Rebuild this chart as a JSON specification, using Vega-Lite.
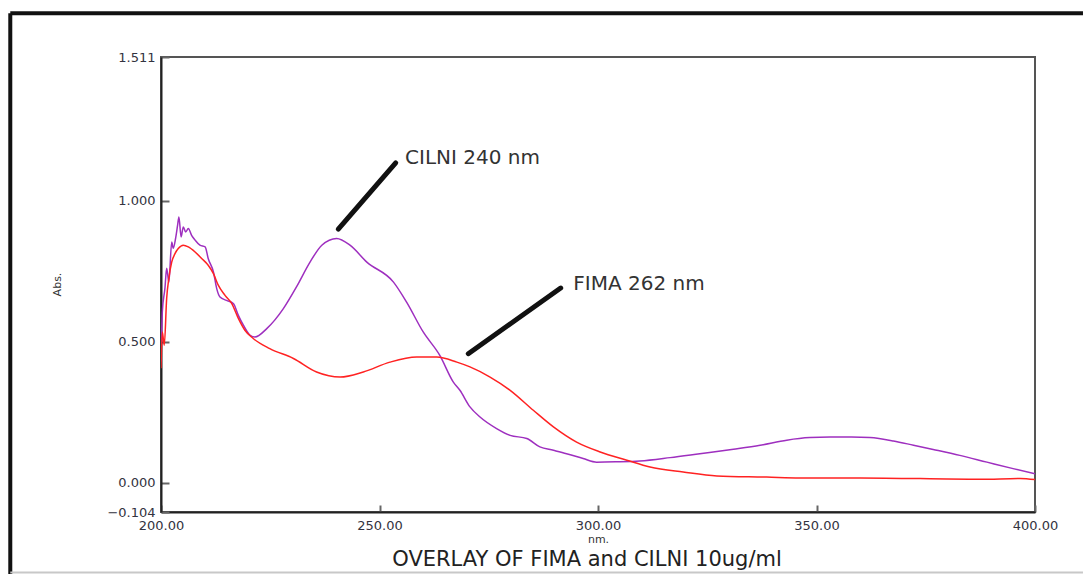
{
  "$schema": "https://vega.github.io/schema/vega-lite/v6.json",
  "width": 874,
  "height": 455,
  "autosize": "none",
  "padding": {"left": 161, "top": 57, "right": 48, "bottom": 62},
  "background": "white",
  "config": {
    "view": {"stroke": "#555555", "strokeWidth": 2},
    "axis": {"grid": false, "labelFont": "DejaVu Sans", "labelFontSize": 13, "labelColor": "#333340", "titleFont": "DejaVu Sans", "titleFontWeight": "normal", "titleColor": "#333333", "domainColor": "#222222", "domainWidth": 2, "tickColor": "#666666", "tickWidth": 2, "labelFlush": false, "labelOverlap": false, "labelBound": false}
  },
  "title": {"text": "OVERLAY OF FIMA and CILNI 10ug/ml", "orient": "bottom", "anchor": "middle", "font": "DejaVu Sans", "fontSize": 21, "fontWeight": "normal", "color": "#222222", "offset": -28, "dx": -11},
  "datasets": {
    "spectra": [
      {"series": "CILNI", "nm": 200.0, "abs": 0.43},
      {"series": "CILNI", "nm": 200.3, "abs": 0.606},
      {"series": "CILNI", "nm": 200.9, "abs": 0.69},
      {"series": "CILNI", "nm": 201.3, "abs": 0.761},
      {"series": "CILNI", "nm": 201.8, "abs": 0.712},
      {"series": "CILNI", "nm": 202.45, "abs": 0.854},
      {"series": "CILNI", "nm": 202.8, "abs": 0.832},
      {"series": "CILNI", "nm": 203.35, "abs": 0.868},
      {"series": "CILNI", "nm": 203.8, "abs": 0.914},
      {"series": "CILNI", "nm": 204.1, "abs": 0.943},
      {"series": "CILNI", "nm": 204.6, "abs": 0.872},
      {"series": "CILNI", "nm": 205.1, "abs": 0.908},
      {"series": "CILNI", "nm": 205.65, "abs": 0.89},
      {"series": "CILNI", "nm": 206.25, "abs": 0.902},
      {"series": "CILNI", "nm": 207.0, "abs": 0.878},
      {"series": "CILNI", "nm": 207.8, "abs": 0.861},
      {"series": "CILNI", "nm": 208.9, "abs": 0.843},
      {"series": "CILNI", "nm": 210.1, "abs": 0.837},
      {"series": "CILNI", "nm": 210.8, "abs": 0.796},
      {"series": "CILNI", "nm": 212.0, "abs": 0.748},
      {"series": "CILNI", "nm": 212.75, "abs": 0.689},
      {"series": "CILNI", "nm": 213.5, "abs": 0.659},
      {"series": "CILNI", "nm": 215.0, "abs": 0.647},
      {"series": "CILNI", "nm": 216.55, "abs": 0.636},
      {"series": "CILNI", "nm": 217.7, "abs": 0.594},
      {"series": "CILNI", "nm": 218.85, "abs": 0.559},
      {"series": "CILNI", "nm": 220.4, "abs": 0.523},
      {"series": "CILNI", "nm": 221.5, "abs": 0.517},
      {"series": "CILNI", "nm": 224.2, "abs": 0.547},
      {"series": "CILNI", "nm": 228.0, "abs": 0.618},
      {"series": "CILNI", "nm": 231.0, "abs": 0.695},
      {"series": "CILNI", "nm": 234.1, "abs": 0.783},
      {"series": "CILNI", "nm": 236.8, "abs": 0.843},
      {"series": "CILNI", "nm": 240.2, "abs": 0.867},
      {"series": "CILNI", "nm": 243.25, "abs": 0.843},
      {"series": "CILNI", "nm": 247.1, "abs": 0.783},
      {"series": "CILNI", "nm": 253.2, "abs": 0.712},
      {"series": "CILNI", "nm": 256.2, "abs": 0.641},
      {"series": "CILNI", "nm": 260.0, "abs": 0.535},
      {"series": "CILNI", "nm": 263.8, "abs": 0.452},
      {"series": "CILNI", "nm": 266.9, "abs": 0.357},
      {"series": "CILNI", "nm": 268.4, "abs": 0.328},
      {"series": "CILNI", "nm": 270.7, "abs": 0.269},
      {"series": "CILNI", "nm": 273.0, "abs": 0.233},
      {"series": "CILNI", "nm": 276.8, "abs": 0.192},
      {"series": "CILNI", "nm": 279.9, "abs": 0.168},
      {"series": "CILNI", "nm": 283.7, "abs": 0.157},
      {"series": "CILNI", "nm": 286.7, "abs": 0.127},
      {"series": "CILNI", "nm": 289.8, "abs": 0.115},
      {"series": "CILNI", "nm": 292.8, "abs": 0.103},
      {"series": "CILNI", "nm": 296.6, "abs": 0.086},
      {"series": "CILNI", "nm": 299.7, "abs": 0.073},
      {"series": "CILNI", "nm": 304.0, "abs": 0.074},
      {"series": "CILNI", "nm": 309.6, "abs": 0.077},
      {"series": "CILNI", "nm": 316.5, "abs": 0.089},
      {"series": "CILNI", "nm": 323.3, "abs": 0.103},
      {"series": "CILNI", "nm": 331.0, "abs": 0.119},
      {"series": "CILNI", "nm": 337.1, "abs": 0.133},
      {"series": "CILNI", "nm": 343.2, "abs": 0.151},
      {"series": "CILNI", "nm": 348.5, "abs": 0.16},
      {"series": "CILNI", "nm": 353.1, "abs": 0.162},
      {"series": "CILNI", "nm": 358.0, "abs": 0.162},
      {"series": "CILNI", "nm": 362.2, "abs": 0.16},
      {"series": "CILNI", "nm": 367.6, "abs": 0.148},
      {"series": "CILNI", "nm": 372.2, "abs": 0.133},
      {"series": "CILNI", "nm": 376.7, "abs": 0.118},
      {"series": "CILNI", "nm": 382.8, "abs": 0.097},
      {"series": "CILNI", "nm": 389.0, "abs": 0.073},
      {"series": "CILNI", "nm": 395.0, "abs": 0.05},
      {"series": "CILNI", "nm": 400.0, "abs": 0.032},
      {"series": "FIMA", "nm": 200.0, "abs": 0.406},
      {"series": "FIMA", "nm": 200.3, "abs": 0.535},
      {"series": "FIMA", "nm": 200.75, "abs": 0.488},
      {"series": "FIMA", "nm": 201.3, "abs": 0.655},
      {"series": "FIMA", "nm": 201.8, "abs": 0.726},
      {"series": "FIMA", "nm": 202.45, "abs": 0.783},
      {"series": "FIMA", "nm": 203.2, "abs": 0.813},
      {"series": "FIMA", "nm": 203.95, "abs": 0.831},
      {"series": "FIMA", "nm": 205.1, "abs": 0.843},
      {"series": "FIMA", "nm": 206.25, "abs": 0.837},
      {"series": "FIMA", "nm": 207.8, "abs": 0.819},
      {"series": "FIMA", "nm": 209.3, "abs": 0.796},
      {"series": "FIMA", "nm": 210.8, "abs": 0.772},
      {"series": "FIMA", "nm": 212.0, "abs": 0.742},
      {"series": "FIMA", "nm": 213.1, "abs": 0.701},
      {"series": "FIMA", "nm": 214.65, "abs": 0.665},
      {"series": "FIMA", "nm": 216.2, "abs": 0.636},
      {"series": "FIMA", "nm": 217.7, "abs": 0.583},
      {"series": "FIMA", "nm": 219.2, "abs": 0.541},
      {"series": "FIMA", "nm": 221.1, "abs": 0.512},
      {"series": "FIMA", "nm": 224.9, "abs": 0.476},
      {"series": "FIMA", "nm": 230.3, "abs": 0.441},
      {"series": "FIMA", "nm": 235.6, "abs": 0.393},
      {"series": "FIMA", "nm": 241.0, "abs": 0.375},
      {"series": "FIMA", "nm": 246.3, "abs": 0.393},
      {"series": "FIMA", "nm": 252.4, "abs": 0.428},
      {"series": "FIMA", "nm": 258.5, "abs": 0.446},
      {"series": "FIMA", "nm": 263.1, "abs": 0.446},
      {"series": "FIMA", "nm": 267.7, "abs": 0.428},
      {"series": "FIMA", "nm": 270.7, "abs": 0.411},
      {"series": "FIMA", "nm": 275.3, "abs": 0.375},
      {"series": "FIMA", "nm": 279.9, "abs": 0.328},
      {"series": "FIMA", "nm": 285.2, "abs": 0.257},
      {"series": "FIMA", "nm": 289.8, "abs": 0.198},
      {"series": "FIMA", "nm": 295.1, "abs": 0.144},
      {"series": "FIMA", "nm": 300.5, "abs": 0.109},
      {"series": "FIMA", "nm": 306.6, "abs": 0.08},
      {"series": "FIMA", "nm": 311.9, "abs": 0.056},
      {"series": "FIMA", "nm": 319.5, "abs": 0.038},
      {"series": "FIMA", "nm": 327.2, "abs": 0.024},
      {"series": "FIMA", "nm": 338.6, "abs": 0.02},
      {"series": "FIMA", "nm": 346.2, "abs": 0.017},
      {"series": "FIMA", "nm": 360.0, "abs": 0.017},
      {"series": "FIMA", "nm": 387.4, "abs": 0.012},
      {"series": "FIMA", "nm": 396.6, "abs": 0.015},
      {"series": "FIMA", "nm": 400.0, "abs": 0.011}
    ],
    "pointers": [
      {"label": "CILNI 240 nm", "nm": 240.57, "abs": 0.9, "nm2": 253.71, "abs2": 1.135, "tnm": 255.84, "tabs": 1.152},
      {"label": "FIMA 262 nm", "nm": 270.32, "abs": 0.458, "nm2": 291.46, "abs2": 0.691, "tnm": 294.35, "tabs": 0.704}
    ],
    "frame": [
      {"part": "top", "nm": 165.51, "abs": 1.666, "nm2": 410.98, "abs2": 1.666},
      {"part": "left", "nm": 165.51, "abs": 1.666, "nm2": 165.51, "abs2": -0.326}
    ],
    "bottomline": [
      {"part": "bottom", "nm": 165.51, "abs": -0.319, "nm2": 410.98, "abs2": -0.319}
    ]
  },
  "layer": [
    {
      "data": {"name": "frame"},
      "mark": {"type": "rule", "clip": false, "color": "#111111", "strokeWidth": 4},
      "encoding": {
        "x": {"field": "nm", "type": "quantitative"},
        "y": {"field": "abs", "type": "quantitative"},
        "x2": {"field": "nm2"},
        "y2": {"field": "abs2"}
      }
    },
    {
      "data": {"name": "bottomline"},
      "mark": {"type": "rule", "clip": false, "color": "#c8c8c8", "strokeWidth": 2},
      "encoding": {
        "x": {"field": "nm", "type": "quantitative"},
        "y": {"field": "abs", "type": "quantitative"},
        "x2": {"field": "nm2"},
        "y2": {"field": "abs2"}
      }
    },
    {
      "data": {"name": "spectra"},
      "mark": {"type": "line", "strokeWidth": 1.5, "clip": true, "interpolate": "monotone"},
      "encoding": {
        "x": {"field": "nm", "type": "quantitative", "scale": {"domain": [200, 400], "nice": false, "zero": false},
          "axis": {"values": [200, 250, 300, 350, 400], "format": ".2f", "tickSize": -7, "labelPadding": 14, "title": "nm.", "titleFontSize": 11, "titlePadding": 1}},
        "y": {"field": "abs", "type": "quantitative", "scale": {"domain": [-0.104, 1.511], "nice": false, "zero": false},
          "axis": {"values": [-0.104, 0, 0.5, 1, 1.511], "format": ".3f", "tickSize": -8, "labelPadding": 14, "title": "Abs.", "titleFontSize": 11, "titleAngle": -90, "titleX": -104, "titleY": 227, "titleAlign": "center", "titleBaseline": "middle"}},
        "color": {"field": "series", "type": "nominal", "scale": {"domain": ["CILNI", "FIMA"], "range": ["#9e2fbf", "#ff2222"]}, "legend": null}
      }
    },
    {
      "data": {"name": "pointers"},
      "mark": {"type": "rule", "color": "#111111", "strokeWidth": 5, "strokeCap": "round"},
      "encoding": {
        "x": {"field": "nm", "type": "quantitative"},
        "y": {"field": "abs", "type": "quantitative"},
        "x2": {"field": "nm2"},
        "y2": {"field": "abs2"}
      }
    },
    {
      "data": {"name": "pointers"},
      "mark": {"type": "text", "align": "left", "baseline": "middle", "font": "DejaVu Sans", "fontSize": 20, "color": "#333333"},
      "encoding": {
        "x": {"field": "tnm", "type": "quantitative"},
        "y": {"field": "tabs", "type": "quantitative"},
        "text": {"field": "label"}
      }
    }
  ]
}
